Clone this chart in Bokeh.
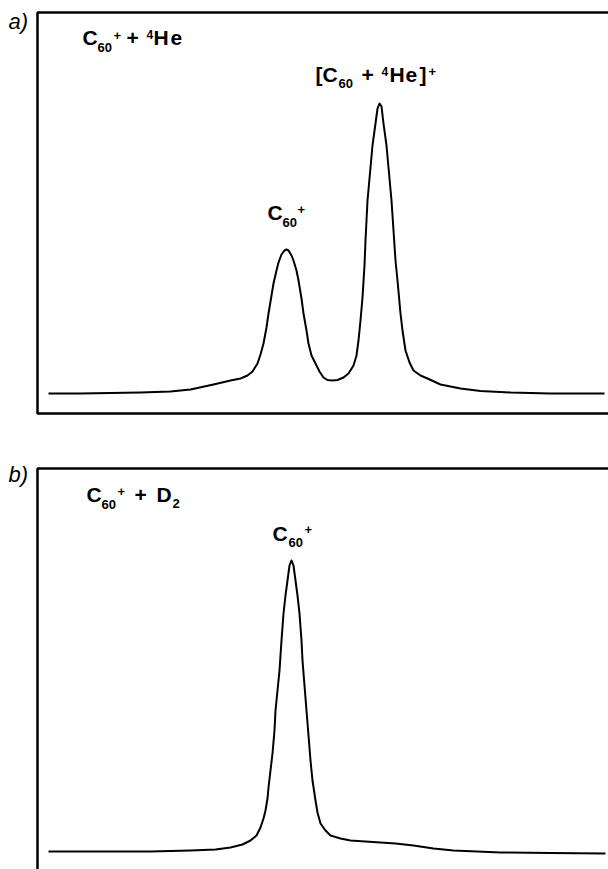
from bokeh.plotting import figure
from bokeh.models import Range1d, Label, BoxAnnotation
from bokeh.layouts import column
from bokeh.embed import file_html
from bokeh.resources import INLINE

# Panel a) C60+ + 4He : signal (arbitrary units) vs. mass channel (arbitrary units)
a_x = [11, 43, 73, 103, 133, 153, 176, 193, 203, 210, 215, 220, 223, 226, 229, 231, 234,
       236, 239, 241, 244, 247, 249, 251, 254, 256, 259, 261, 264, 266, 269, 271, 274,
       278, 282, 286, 290, 295, 300, 306, 311, 316, 319, 321, 323, 325, 327, 328, 330,
       333, 335, 338, 340, 342, 344, 346, 349, 351, 354, 356, 358, 360, 363, 365, 368,
       372, 376, 383, 390, 403, 423, 443, 473, 513, 567]
a_y = [20, 20, 20.5, 21, 22, 24, 29, 33, 35, 38, 42, 50, 59, 70, 86, 100, 118, 130,
       143, 151, 159, 163, 164, 163, 158, 153, 143, 133, 115, 100, 83, 70, 58, 50, 42,
       36, 33.5, 33, 33.5, 36, 40, 48, 58, 73, 93, 116, 148, 173, 213, 246, 268, 290,
       305, 310, 307, 290, 268, 246, 213, 183, 153, 133, 100, 83, 63, 51, 43, 38, 35,
       29, 25, 22.5, 21, 20, 20]

# Panel b) C60+ + D2
b_x = [11, 63, 113, 153, 178, 193, 205, 213, 219, 223, 226, 228, 230, 231, 233, 235,
       237, 238, 240, 242, 244, 246, 248, 250, 252, 254, 256, 258, 260, 262, 264, 265,
       267, 269, 271, 273, 275, 278, 280, 283, 288, 293, 303, 313, 328, 343, 358, 376,
       396, 416, 463, 513, 568]
b_y = [10, 10, 10, 11, 12, 14, 17, 21, 26, 34, 43, 51, 63, 74, 91, 108, 131, 151, 171,
       191, 221, 248, 266, 281, 296, 301, 296, 281, 266, 248, 221, 201, 176, 151, 126,
       101, 81, 61, 49, 38, 31, 26, 23, 21, 20, 19, 18, 16, 13, 11, 9, 8.5, 8]

FONT = "Liberation Sans"


def make_fig(h, y0, y1):
    p = figure(width=608, height=h, x_range=Range1d(-37, 571), y_range=Range1d(y0, y1),
               output_backend="svg", toolbar_location=None, title=None,
               min_border=0, x_axis_location=None, y_axis_location=None)
    p.grid.visible = False
    p.outline_line_color = None
    p.background_fill_color = "white"
    p.border_fill_color = "white"
    return p


def frame_box(p, top, bottom):
    p.add_layout(BoxAnnotation(left=0, right=590, top=top, bottom=bottom,
                               fill_color=None, fill_alpha=0,
                               line_color="black", line_alpha=1.0, line_width=2.5))


def put(p, fx0, fy0, text, px, py, size, style="bold"):
    # small upward correction so the rendered baseline lands where intended
    py = py - 0.38 * size
    p.add_layout(Label(x=px - fx0, y=fy0 - py, text=text, text_font=FONT,
                       text_font_size=f"{size}px", text_font_style=style,
                       text_color="black", text_align="left",
                       text_baseline="alphabetic"))


# ---------------- panel a ----------------
pa = make_fig(440, -27, 413)
frame_box(pa, 401, 0)
pa.line(a_x, a_y, line_color="black", line_width=2, line_join="round")
FA = (37, 413)
put(pa, *FA, "a)", 8, 29, 22, "italic")
for t, x, y, s in [("C", 82, 45, 21), ("60", 97, 52, 13), ("+", 113, 40, 13),
                   ("+", 126, 45, 21), ("4", 146, 39, 12), ("H", 153, 45, 21),
                   ("e", 170, 45, 21)]:
    put(pa, *FA, t, x, y, s)
for t, x, y, s in [("[", 315, 82, 21), ("C", 322, 82, 21), ("60", 338, 88, 13),
                   ("+", 361, 82, 21), ("4", 381, 76, 12), ("H", 389, 82, 21),
                   ("e", 405, 82, 21), ("]", 419, 82, 21), ("+", 428, 76, 13)]:
    put(pa, *FA, t, x, y, s)
for t, x, y, s in [("C", 267, 220, 21), ("60", 282, 227, 13), ("+", 297, 214, 13)]:
    put(pa, *FA, t, x, y, s)

# ---------------- panel b ----------------
pb = make_fig(429, -8, 421)
frame_box(pb, 393, -40)
pb.line(b_x, b_y, line_color="black", line_width=2, line_join="round")
FB = (37, 861)
put(pb, *FB, "b)", 8, 482, 22, "italic")
for t, x, y, s in [("C", 86, 502, 21), ("60", 101, 509, 13), ("+", 117, 496, 13),
                   ("+", 134, 502, 21), ("D", 156, 502, 21), ("2", 172, 508, 13)]:
    put(pb, *FB, t, x, y, s)
for t, x, y, s in [("C", 272, 541, 21), ("60", 288, 547, 13), ("+", 304, 534, 13)]:
    put(pb, *FB, t, x, y, s)

layout = column(pa, pb)
open("out.html", "w").write(file_html(layout, INLINE))
